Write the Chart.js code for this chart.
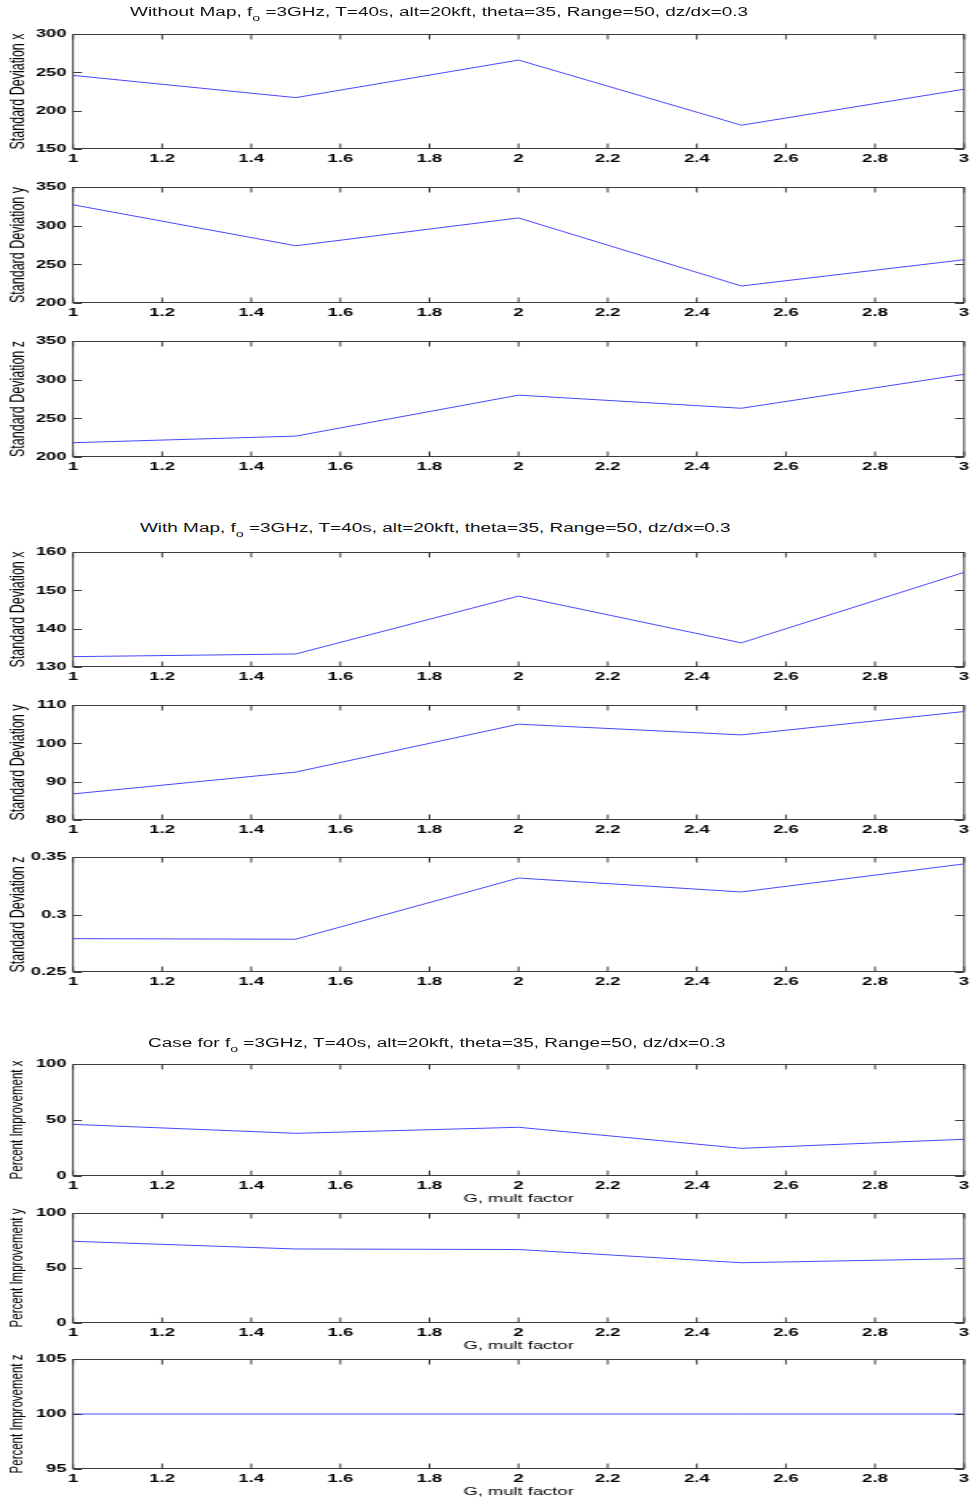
<!DOCTYPE html>
<html lang="en">
<head>
    <meta charset="UTF-8">
    <title>Standard Deviation vs G, mult factor</title>
    <style>
        body {
            margin: 0;
            width: 974px;
            height: 1502px;
            position: relative;
            overflow: hidden;
            background: #fff;
            font-family: "Liberation Sans", Arial, sans-serif;
        }
        canvas.panel {
            position: absolute;
            left: 0;
            transform-origin: 0 0;
        }
        .title {
            position: absolute;
            white-space: nowrap;
            font-size: 12px;
            line-height: 14px;
            color: #111;
            transform-origin: 0 50%;
            z-index: 2;
        }
        .title sub {
            font-size: 9px;
            vertical-align: -5px;
            line-height: 0;
        }
    </style>
    <script src="https://cdn.jsdelivr.net/npm/chart.js"></script>
</head>
<body>
    <div id="charts"></div>
    <div class="title" data-left="130" data-width="618" data-cy="12">Without Map, f<sub>o</sub> =3GHz, T=40s, alt=20kft, theta=35, Range=50, dz/dx=0.3</div>
    <div class="title" data-left="140" data-width="590" data-cy="528">With Map, f<sub>o</sub> =3GHz, T=40s, alt=20kft, theta=35, Range=50, dz/dx=0.3</div>
    <div class="title" data-left="148" data-width="578" data-cy="1043">Case for f<sub>o</sub> =3GHz, T=40s, alt=20kft, theta=35, Range=50, dz/dx=0.3</div>

    <script>
        // G multiplication factor (x axis)
        var gFactor = [1, 1.5, 2, 2.5, 3];
        var xTicks = [1, 1.2, 1.4, 1.6, 1.8, 2, 2.2, 2.4, 2.6, 2.8, 3];

        // without map
        var noMapX = [246, 217, 266, 181, 228];
        var noMapY = [327, 274, 310, 222, 256];
        var noMapZ = [218.5, 227, 280, 263, 307];
        // with map
        var mapX = [132.7, 133.4, 148.5, 136.3, 154.7];
        var mapY = [86.8, 92.5, 105, 102.2, 108.3];
        var mapZ = [0.279, 0.2785, 0.3317, 0.3196, 0.344];
        // percent improvement
        var improveX = [46.1, 38.1, 43.5, 24.7, 32.8];
        var improveY = [74.3, 67.3, 66.8, 54.8, 58.5];
        var improveZ = [100, 100, 100, 100, 100];

        // y tick labels
        var ticksNoMapX = [150, 200, 250, 300];
        var ticksNoMapY = [200, 250, 300, 350];
        var ticksNoMapZ = [200, 250, 300, 350];
        var ticksMapX = [130, 140, 150, 160];
        var ticksMapY = [80, 90, 100, 110];
        var ticksMapZ = [0.25, 0.3, 0.35];
        var ticksImproveXY = [0, 50, 100];
        var ticksImproveZ = [95, 100, 105];

        // the original figure is stretched horizontally, so draw narrow and scale up
        var PAGE_W = 974;
        var CANVAS_W = 609;
        var SX = PAGE_W / CANVAS_W;
        var PLOT_LEFT = 73 / SX;
        var PLOT_RIGHT = 965 / SX;
        var PAD_TOP = 12;

        var panels = [
            { top: 34,   h: 115, data: noMapX,   ticks: ticksNoMapX,   label: 'Standard Deviation x', fs: 12.5 },
            { top: 187,  h: 116, data: noMapY,   ticks: ticksNoMapY,   label: 'Standard Deviation y', fs: 12.5 },
            { top: 341,  h: 116, data: noMapZ,   ticks: ticksNoMapZ,   label: 'Standard Deviation z', fs: 12.5 },
            { top: 552,  h: 115, data: mapX,     ticks: ticksMapX,     label: 'Standard Deviation x', fs: 12.5 },
            { top: 705,  h: 115, data: mapY,     ticks: ticksMapY,     label: 'Standard Deviation y', fs: 12.5 },
            { top: 857,  h: 115, data: mapZ,     ticks: ticksMapZ,     label: 'Standard Deviation z', fs: 12.5 },
            { top: 1064, h: 112, data: improveX, ticks: ticksImproveXY, label: 'Percent Improvement x', fs: 11.5, xlabel: true },
            { top: 1213, h: 110, data: improveY, ticks: ticksImproveXY, label: 'Percent Improvement y', fs: 11.5, xlabel: true },
            { top: 1359, h: 110, data: improveZ, ticks: ticksImproveZ,  label: 'Percent Improvement z', fs: 11.5, xlabel: true }
        ];

        // matlab style box with inward tick marks
        var boxPlugin = {
            id: 'matlabBox',
            afterDraw: function(chart) {
                var ctx = chart.ctx;
                var a = chart.chartArea;
                var xs = chart.scales.x, ys = chart.scales.y;
                var top = Math.round(a.top) + 0.5, bottom = Math.round(a.bottom) - 0.5;
                ctx.save();
                ctx.strokeStyle = '#3c3c3c';
                ctx.lineWidth = 1;
                ctx.beginPath();
                xs.ticks.forEach(function(t) {
                    var px = xs.getPixelForValue(t.value);
                    ctx.moveTo(px, bottom); ctx.lineTo(px, bottom - 5);
                    ctx.moveTo(px, top); ctx.lineTo(px, top + 5);
                });
                ys.ticks.forEach(function(t) {
                    var py = Math.round(ys.getPixelForValue(t.value)) + 0.5;
                    ctx.moveTo(a.left, py); ctx.lineTo(a.left + 5.6, py);
                    ctx.moveTo(a.right, py); ctx.lineTo(a.right - 5.6, py);
                });
                ctx.stroke();
                ctx.strokeRect(a.left, top, a.right - a.left, bottom - top);
                ctx.restore();
            }
        };

        var tickFont = { family: '"Liberation Sans", Arial, sans-serif', size: 11.5, weight: 'bold' };

        panels.forEach(function(p) {
            var xH = p.xlabel ? 30 : 18;
            var canvas = document.createElement('canvas');
            canvas.className = 'panel';
            canvas.width = CANVAS_W;
            canvas.height = PAD_TOP + p.h + xH;
            canvas.style.width = CANVAS_W + 'px';
            canvas.style.height = canvas.height + 'px';
            canvas.style.top = (p.top - PAD_TOP) + 'px';
            canvas.style.transform = 'scaleX(' + SX + ')';
            document.getElementById('charts').appendChild(canvas);

            new Chart(canvas.getContext('2d'), {
                type: 'line',
                data: {
                    datasets: [{
                        data: gFactor.map(function(g, i) { return { x: g, y: p.data[i] }; }),
                        borderColor: 'rgb(70,70,255)',
                        borderWidth: 1,
                        pointRadius: 0,
                        pointHoverRadius: 0,
                        fill: false,
                        tension: 0
                    }]
                },
                options: {
                    responsive: false,
                    animation: false,
                    devicePixelRatio: 1,
                    layout: { autoPadding: false, padding: { top: PAD_TOP, right: CANVAS_W - PLOT_RIGHT, left: 0, bottom: 0 } },
                    plugins: { legend: { display: false }, tooltip: { enabled: false } },
                    scales: {
                        x: {
                            type: 'linear',
                            min: 1,
                            max: 3,
                            grid: { display: false, drawTicks: false },
                            border: { display: false },
                            afterBuildTicks: function(s) { s.ticks = xTicks.map(function(v) { return { value: v }; }); },
                            afterFit: function(s) { s.height = xH; },
                            ticks: {
                                callback: function(v) { return String(v); },
                                font: tickFont,
                                color: '#000',
                                padding: 3,
                                maxRotation: 0,
                                autoSkip: false
                            },
                            title: {
                                display: !!p.xlabel,
                                text: 'G, mult factor',
                                font: { family: '"Liberation Sans", Arial, sans-serif', size: 11.5 },
                                color: '#000',
                                padding: { top: 0, bottom: 0 }
                            }
                        },
                        y: {
                            min: p.ticks[0],
                            max: p.ticks[p.ticks.length - 1],
                            grid: { display: false, drawTicks: false },
                            border: { display: false },
                            afterBuildTicks: function(s) { s.ticks = p.ticks.map(function(v) { return { value: v }; }); },
                            afterFit: function(s) { s.width = PLOT_LEFT; },
                            ticks: {
                                callback: function(v) { return String(v); },
                                font: tickFont,
                                color: '#000',
                                padding: 4
                            },
                            title: {
                                display: true,
                                text: p.label,
                                font: { family: '"Liberation Sans", Arial, sans-serif', size: p.fs },
                                color: '#000',
                                padding: { top: 4, bottom: 0 }
                            }
                        }
                    }
                },
                plugins: [boxPlugin]
            });
        });

        // place the stretched group titles
        document.querySelectorAll('.title').forEach(function(el) {
            var w = el.offsetWidth;
            var h = el.offsetHeight;
            el.style.left = el.dataset.left + 'px';
            el.style.top = (el.dataset.cy - h / 2) + 'px';
            el.style.transform = 'scaleX(' + (el.dataset.width / w) + ')';
        });
    </script>
</body>
</html>
